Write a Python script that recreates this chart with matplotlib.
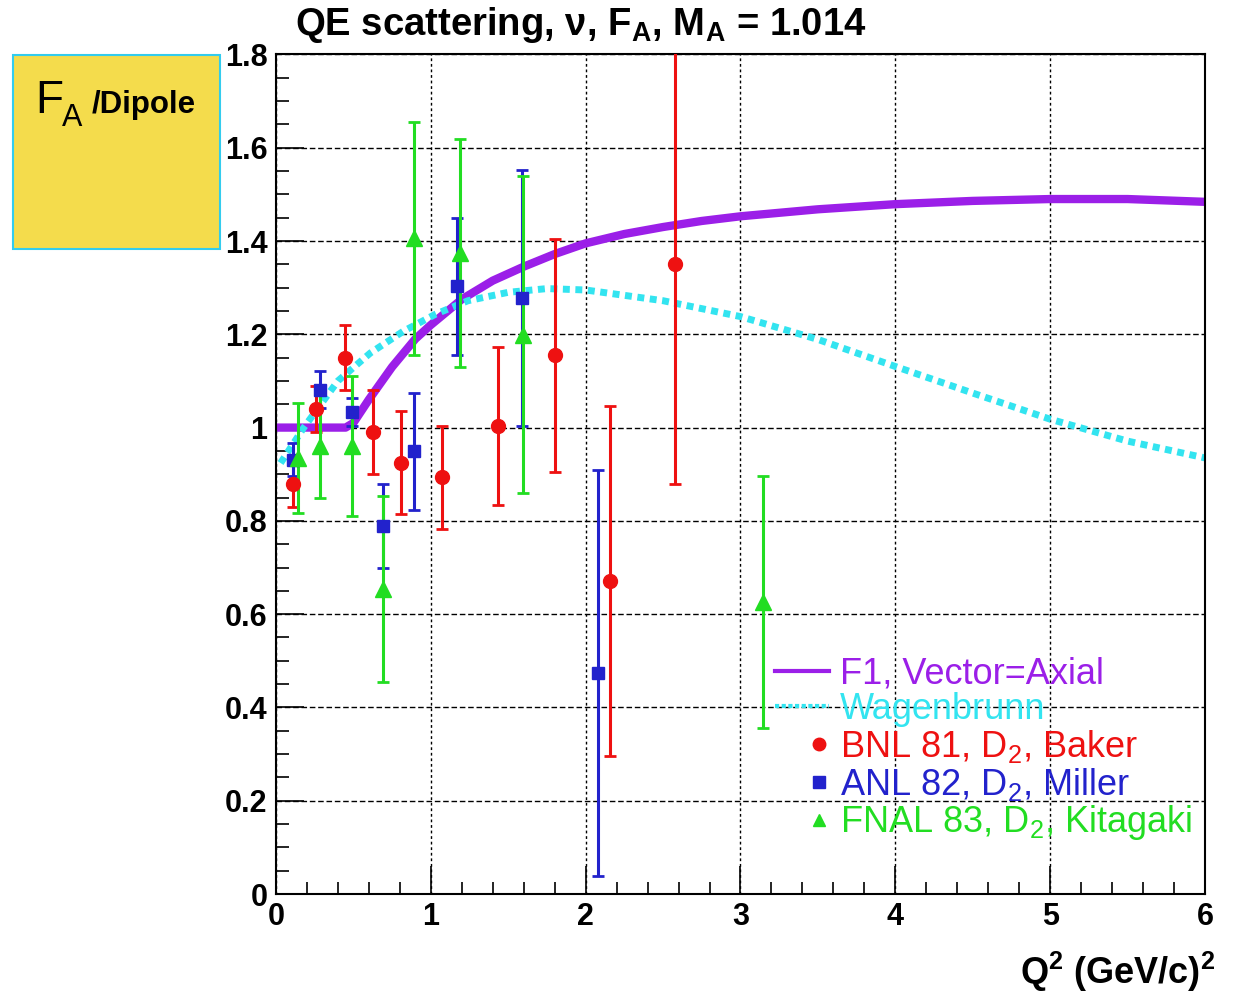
import matplotlib
matplotlib.use("Agg")
import matplotlib.pyplot as plt
import numpy as np
from matplotlib.lines import Line2D
from matplotlib.patches import Rectangle
from matplotlib.ticker import MultipleLocator, FuncFormatter
from matplotlib.legend_handler import HandlerLine2D

plt.rcParams['font.family'] = ['Liberation Sans', 'DejaVu Sans']
plt.rcParams['mathtext.fontset'] = 'custom'
plt.rcParams['mathtext.rm'] = 'Liberation Sans'
plt.rcParams['mathtext.bf'] = 'Liberation Sans:bold'
plt.rcParams['mathtext.default'] = 'regular'

# F1, Vector=Axial curve
f1_q = [0.0, 0.45, 0.5, 0.6, 0.75, 0.9, 1.0, 1.2, 1.4, 1.6, 1.8, 2.0, 2.25, 2.5, 2.75, 3.0, 3.5, 4.0, 4.5, 5.0, 5.5, 6.0]
f1_f = [1.0, 1.0, 1.01, 1.06, 1.13, 1.19, 1.22, 1.275, 1.315, 1.345, 1.372, 1.395, 1.415, 1.43, 1.443, 1.453, 1.468, 1.479, 1.486, 1.49, 1.49, 1.484]

# Wagenbrunn curve
wag_q = [0.03, 0.18, 0.4, 0.61, 0.82, 1.03, 1.24, 1.5, 1.75, 2.0, 2.5, 3.0, 3.5, 4.0, 4.5, 5.0, 5.5, 6.0]
wag_f = [0.924, 1.0, 1.1, 1.16, 1.206, 1.243, 1.272, 1.29, 1.298, 1.295, 1.272, 1.238, 1.189, 1.131, 1.074, 1.018, 0.971, 0.935]

# BNL 81
bnl_q = [0.11, 0.26, 0.445, 0.627, 0.81, 1.07, 1.436, 1.80, 2.16, 2.58]
bnl_f = [0.88, 1.04, 1.15, 0.99, 0.925, 0.893, 1.003, 1.155, 0.671, 1.35]
bnl_e = [0.05, 0.05, 0.07, 0.09, 0.11, 0.11, 0.17, 0.25, 0.375, 0.47]

# ANL 82
anl_q = [0.11, 0.284, 0.489, 0.693, 0.893, 1.171, 1.587, 2.08]
anl_f = [0.931, 1.081, 1.033, 0.789, 0.949, 1.303, 1.278, 0.474]
anl_e = [0.035, 0.04, 0.03, 0.09, 0.125, 0.147, 0.275, 0.435]

# FNAL 83
fnal_q = [0.144, 0.284, 0.489, 0.693, 0.893, 1.189, 1.598, 3.146]
fnal_f = [0.935, 0.96, 0.96, 0.654, 1.406, 1.374, 1.199, 0.626]
fnal_e = [0.118, 0.11, 0.15, 0.2, 0.25, 0.245, 0.34, 0.27]

c_f1 = '#9b1fe8'
c_wag = '#33e4f0'
c_bnl = '#ee1111'
c_anl = '#2222cc'
c_fnal = '#22dd22'


class RightMarker(HandlerLine2D):
    # put the marker near the right end of the handle, as ROOT does
    def create_artists(self, legend, orig_handle, xdescent, ydescent, width, height, fontsize, trans):
        return super().create_artists(legend, orig_handle, xdescent - 0.32 * width, ydescent,
                                      width, height, fontsize, trans)


fig = plt.figure(figsize=(12.33, 9.99), dpi=100)
ax = fig.add_axes([0.2238, 0.1051, 0.7535, 0.8404])

ax.plot(f1_q, f1_f, color=c_f1, lw=6, solid_capstyle='butt', zorder=2)
ax.plot(wag_q, wag_f, color=c_wag, lw=5, linestyle=(0, (1, 0.8)), dash_capstyle='butt', zorder=2)

ax.errorbar(bnl_q, bnl_f, yerr=bnl_e, fmt='o', color=c_bnl, ms=10, elinewidth=2.2,
            capsize=4, capthick=2, zorder=3)
ax.errorbar(anl_q, anl_f, yerr=anl_e, fmt='s', color=c_anl, ms=9, elinewidth=2.2,
            capsize=4, capthick=2, zorder=3)
ax.errorbar(fnal_q, fnal_f, yerr=fnal_e, fmt='^', color=c_fnal, ms=11, elinewidth=2.2,
            capsize=4, capthick=2, zorder=3)

ax.set_xlim(0, 6)
ax.set_ylim(0, 1.8)
ax.xaxis.set_major_locator(MultipleLocator(1))
ax.xaxis.set_minor_locator(MultipleLocator(0.2))
ax.yaxis.set_major_locator(MultipleLocator(0.2))
ax.yaxis.set_minor_locator(MultipleLocator(0.05))
fmt = FuncFormatter(lambda v, p: '%g' % round(v, 2))
ax.xaxis.set_major_formatter(fmt)
ax.yaxis.set_major_formatter(fmt)
ax.tick_params(which='major', direction='in', length=20, width=1.2, labelsize=22, pad=6)
ax.tick_params(which='minor', direction='in', length=9, width=1.2)
ax.tick_params(top=False, right=False, which='both')
for lab in ax.get_xticklabels() + ax.get_yticklabels():
    lab.set_fontweight('bold')
for s in ax.spines.values():
    s.set_linewidth(1.5)

ax.xaxis.grid(True, which='major', color='black', linestyle=(0, (2, 2)), lw=1)
ax.yaxis.grid(True, which='major', color='black', linestyle=(0, (4, 2)), lw=1)
ax.set_axisbelow(True)

handles = [
    Line2D([], [], color=c_f1, lw=3),
    Line2D([], [], color=c_wag, lw=3, linestyle=(0, (1, 0.6))),
    Line2D([], [], color=c_bnl, marker='o', ls='none', ms=9),
    Line2D([], [], color=c_anl, marker='s', ls='none', ms=8),
    Line2D([], [], color=c_fnal, marker='^', ls='none', ms=9),
]
labels = ['F1, Vector=Axial', 'Wagenbrunn', 'BNL 81, D$_2$, Baker',
          'ANL 82, D$_2$, Miller', 'FNAL 83, D$_2$, Kitagaki']
leg = ax.legend(handles, labels, loc='upper left', bbox_to_anchor=(0.537, 0.283),
                frameon=False, fontsize=26, handlelength=1.5, handletextpad=0.3,
                labelspacing=0.02, borderpad=0, borderaxespad=0,
                labelcolor=[c_f1, c_wag, c_bnl, c_anl, c_fnal],
                handler_map={h: RightMarker() for h in handles[2:]})

fig.text(295 / 1233, 1 - 25 / 999, r'QE scattering, $\nu$, F$_A$, M$_A$ = 1.014',
         fontsize=27.5, fontweight='bold', ha='left', va='center')
fig.text(1215 / 1233, 1 - 972 / 999, r'Q$^2$ (GeV/c)$^2$', fontsize=26,
         fontweight='bold', ha='right', va='center')

box = Rectangle((13 / 1233, 1 - 249 / 999), 207 / 1233, 194 / 999, transform=fig.transFigure,
                facecolor='#f4dc4c', edgecolor='#33ccee', lw=1.5)
fig.patches.append(box)
fig.text(35 / 1233, 1 - 113 / 999, 'F', fontsize=33, ha='left', va='baseline')
fig.text(62 / 1233, 1 - 126 / 999, 'A', fontsize=22, ha='left', va='baseline')
fig.text(92 / 1233, 1 - 113 / 999, '/Dipole', fontsize=22.5, fontweight='bold', ha='left', va='baseline')

fig.savefig('out.png', dpi=100)
